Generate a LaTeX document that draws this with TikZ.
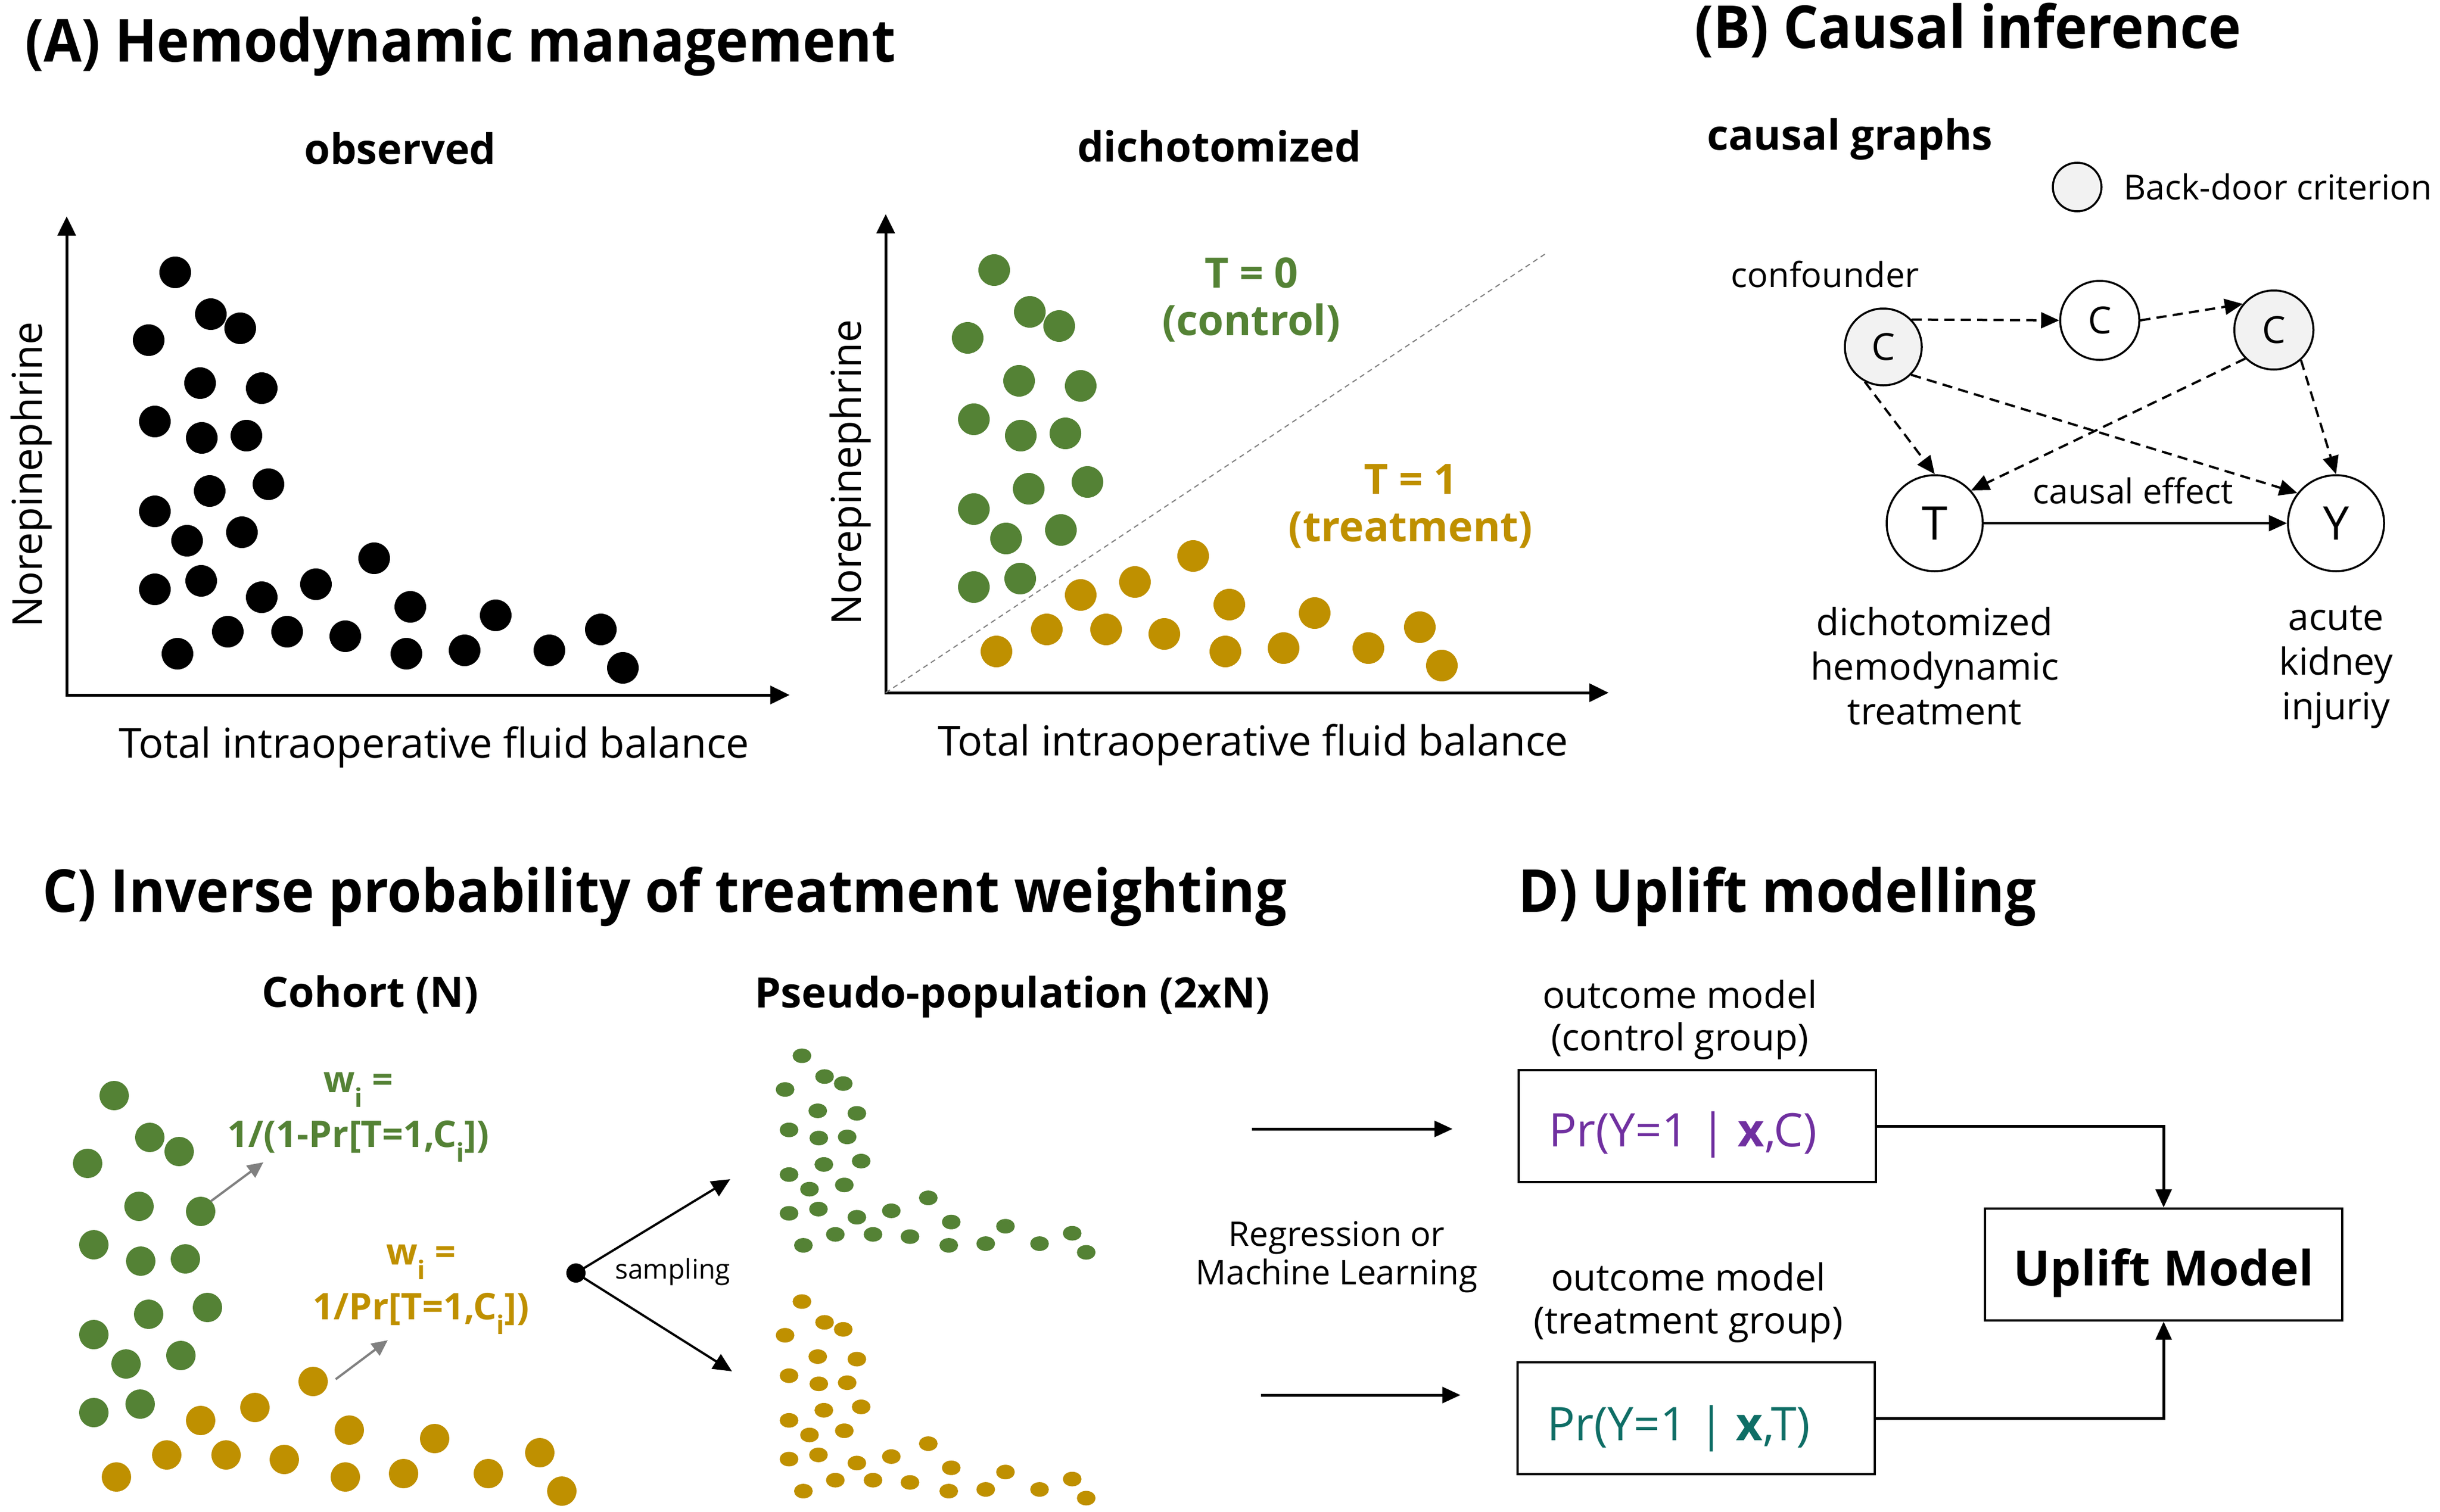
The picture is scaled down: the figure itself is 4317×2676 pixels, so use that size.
\documentclass[tikz,border=0pt]{standalone}
\usepackage{fontspec}
\setmainfont{Open Sans}
\usepackage{tikz}
\usetikzlibrary{arrows.meta}

\definecolor{grn}{HTML}{548235}
\definecolor{gld}{HTML}{BF9000}
\definecolor{prp}{HTML}{7030A0}
\definecolor{tel}{HTML}{0F6E66}
\definecolor{lgr}{HTML}{F2F2F2}
\definecolor{agr}{HTML}{808080}

\newcommand{\scatterpts}{310/482,373/556,425/581,263/602,354/678,463/687,274/746,357/775,436/771,371/869,475/857,274/905,331/957,428/942,274/1043,356/1028,463/1057,559/1034,662/988,314/1157,403/1118,508/1118,611/1126,726/1074,719/1157,822/1151,877/1089,972/1151,1063/1114,1102/1182}

\tikzset{
  ttl/.style={font=\fontsize{105}{120}\selectfont\bfseries\addfontfeature{FakeStretch=0.93}, inner sep=0pt, anchor=base west},
  sub/.style={font=\fontsize{74}{84}\selectfont\bfseries, inner sep=0pt, anchor=base, align=center},
  lbl/.style={font=\fontsize{73}{84}\selectfont, inner sep=0pt, anchor=base, align=center},
  txtsm/.style={font=\fontsize{61}{79}\selectfont, inner sep=0pt, anchor=base, align=center},
  wt/.style={font=\fontsize{65}{97}\selectfont\bfseries, inner sep=0pt, anchor=base, align=center},
  axis/.style={line width=5pt, <->, >={Triangle[length=34pt,width=32pt]}},
  var/.style={circle, draw, line width=3.5pt, inner sep=0pt, minimum size=140pt, font=\fontsize{66}{70}\selectfont},
  bd/.style={fill=lgr},
  dep/.style={line width=4pt, dash pattern=on 18pt off 11pt, ->, >={Triangle[length=32pt,width=28pt]}},
  wtarrow/.style={agr, line width=4pt, ->, >={Triangle[length=28pt,width=26pt]}},
  samp/.style={line width=4pt, ->, >={Triangle[length=33pt,width=30pt]}},
  model/.style={draw, line width=4pt, minimum width=632pt, minimum height=198pt, inner sep=0pt},
  prob/.style={font=\fontsize{82}{90}\selectfont, inner sep=0pt, anchor=base west},
  flow/.style={line width=5pt, ->, >={Triangle[length=32pt,width=28pt]}},
}

\begin{document}
\begin{tikzpicture}[x=1pt,y=-1pt]
\useasboundingbox (0,0) rectangle (4317,2676);

\node[ttl] (TA) at (44,110) {(A) Hemodynamic management};
\foreach \dx/\dy/\nm in {0/0/observed,1449/-4/dichotomized} {
  \begin{scope}[shift={(\dx,\dy)}]
    \coordinate (O) at (118,1230);
    \coordinate (BX) at (1397,1230); \coordinate (BY) at (118,383);
    \draw[axis] (BY) -- (O) -- (BX);
    \node[sub] (H\nm) at (708,290) {\nm};
    \node[lbl] (X\nm) at (768,1341) {Total intraoperative fluid balance};
    \node[lbl, rotate=90] (Y\nm) at (74,840) {Norepinephrine};
  \end{scope}
}
\foreach \px/\py in \scatterpts {
  \fill (\px,\py) circle (28);
}
\begin{scope}[shift={(1449,-4)}]
  \coordinate (O2) at (118,1230); \coordinate (D2) at (1290,450);
  \draw[agr, line width=2pt, dash pattern=on 9pt off 7pt] (O2) -- (D2);
  \foreach \px/\py [count=\k] in \scatterpts {
    \ifnum\k<17 \def\dc{grn}\else\def\dc{gld}\fi
    \fill[fill=\dc] (\px,\py) circle (28);
  }
\end{scope}
\node[sub, text=grn] (T0) at (2214,593) {T = 0\\(control)};
\node[sub, text=gld] (T1) at (2496,958) {T = 1\\(treatment)};

\node[ttl] (TB) at (2998,86) {(B) Causal inference};
\node[sub, anchor=base west] (CG) at (3020,265) {causal graphs};
\node[var, bd, minimum size=86pt] (LG) at (3675,331) {};
\node[txtsm, anchor=base west] (LGT) at (3757,353) {Back-door criterion};
\node[txtsm] (CF) at (3229,508) {confounder};
\node[var, bd, minimum size=136pt] (C1) at (3332,614) {C};
\node[var] (C2) at (3715,567) {C};
\node[var, bd] (C3) at (4023,584) {C};
\node[var, minimum size=170pt, font=\fontsize{82}{90}\selectfont] (T) at (3423,926) {T};
\node[var, minimum size=170pt, font=\fontsize{82}{90}\selectfont] (Y) at (4133,926) {Y};
\draw[dep] (C1.44) -- (C2.west);
\draw[dep] (C2.east) -- (C3.140);
\draw[dep] (C1.242) -- (T.north);
\draw[dep] (C1.-45) -- (Y.142);
\draw[dep] (C3.-135) -- (T.42);
\draw[dep] (C3.-48) -- (Y.north);
\draw[line width=4pt, ->, >={Triangle[length=32pt,width=28pt]}] (T) -- (Y);
\node[txtsm] (CE) at (3774,891) {causal effect};
\node[txtsm, font=\fontsize{66}{79}\selectfont] (TL) at (3423,1282) {dichotomized\\hemodynamic\\treatment};
\node[txtsm, font=\fontsize{66}{79}\selectfont] (YL) at (4133,1273) {acute\\kidney\\injuriy};

\node[ttl] (TC) at (75,1614) {C) Inverse probability of treatment weighting};
\node[sub] (CH) at (655,1782) {Cohort (N)};
\begin{scope}[shift={(-108,1457)}]
  \foreach \px/\py [count=\k] in \scatterpts {
    \ifnum\k<17 \def\dc{grn}\else\def\dc{gld}\fi
    \fill[fill=\dc] (\px,\py) circle (26);
  }
\end{scope}
\node[wt, text=grn] (WG) at (634,2030) {w\textsubscript{i} =\\1/(1-Pr[T=1,C\textsubscript{i}])};
\node[wt, text=gld] (WY) at (745,2335) {w\textsubscript{i} =\\1/Pr[T=1,C\textsubscript{i}])};
\coordinate (GA) at (373,2126); \coordinate (GB) at (466,2057);
\coordinate (YA) at (594,2441); \coordinate (YB) at (686,2372);
\draw[wtarrow] (GA) -- (GB);
\draw[wtarrow] (YA) -- (YB);

\node[circle, fill, inner sep=0pt, minimum size=34pt] (S) at (1019,2253) {};
\coordinate (SU) at (1292,2087); \coordinate (SD) at (1295,2427);
\draw[samp] (S.center) -- (SU);
\draw[samp] (S.center) -- (SD);
\node[txtsm, font=\fontsize{48}{56}\selectfont, anchor=base west] (SL) at (1088,2263) {sampling};

\node[sub] (PP) at (1791,1783) {Pseudo-population (2xN)};
\begin{scope}[shift={(1222,1629)}, xscale=0.635, yscale=0.497]
  \foreach \px/\py in \scatterpts { \fill[grn] (\px,\py) circle (26); }
\end{scope}
\begin{scope}[shift={(1222,2064)}, xscale=0.635, yscale=0.497]
  \foreach \px/\py in \scatterpts { \fill[gld] (\px,\py) circle (26); }
\end{scope}

\node[txtsm, font=\fontsize{60}{68}\selectfont] (RG) at (2365,2273) {Regression or\\Machine Learning};
\coordinate (PA1) at (2215,1998); \coordinate (PA2) at (2570,1998);
\coordinate (PB1) at (2231,2469); \coordinate (PB2) at (2584,2469);
\draw[flow] (PA1) -- (PA2);
\draw[flow] (PB1) -- (PB2);

\node[ttl] (TD) at (2686,1614) {D) Uplift modelling};
\node[txtsm, font=\fontsize{66}{75}\selectfont] (OM1) at (2972,1859) {outcome model\\(control group)};
\node[txtsm, font=\fontsize{66}{76}\selectfont] (OM2) at (2987,2360) {outcome model\\(treatment group)};
\node[model] (M1) at (3003,1993) {};
\node[model] (M2) at (3001,2510) {};
\node[model] (U) at (3828,2238) {};
\node[prob, text=prp] (P1) at (2740,2029) {Pr(Y=1 | \textbf{x},C)};
\node[prob, text=tel] (P2) at (2737,2549) {Pr(Y=1 | \textbf{x},T)};
\node[font=\fontsize{86}{96}\selectfont\bfseries, inner sep=0pt, anchor=base] (UL) at (3828,2275) {Uplift Model};
\draw[flow] (M1.east) -| (U.north);
\draw[flow] (M2.east) -| (U.south);

\end{tikzpicture}
\end{document}
